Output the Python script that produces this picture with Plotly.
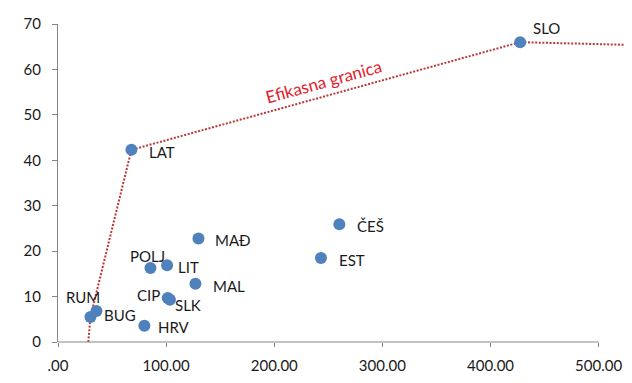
import plotly.graph_objects as go

# ---- data ----
countries = ["SLO", "LAT", "MAĐ", "POLJ", "LIT", "MAL", "CIP", "SLK", "RUM", "BUG", "HRV", "ČEŠ", "EST"]
x_vals = [427.4, 67.9, 129.9, 85.5, 100.9, 127.1, 101.5, 103.5, 30.0, 35.6, 79.9, 260.2, 243.2]
y_vals = [66.0, 42.3, 22.8, 16.3, 16.9, 12.8, 9.7, 9.3, 5.5, 6.8, 3.6, 25.9, 18.5]

frontier_x = [28.0, 30.0, 67.9, 427.4, 529.0]
frontier_y = [0.0, 5.5, 42.3, 66.0, 65.4]

x_tickvals = [0, 100, 200, 300, 400, 500]
x_ticktext = [".00", "100.00", "200.00", "300.00", "400.00", "500.00"]
y_tickvals = [0, 10, 20, 30, 40, 50, 60, 70]

frontier_label = "Efikasna granica"
frontier_label_pos = (245.4, 57.3)

# ---- styling ----
XMAX = 529.0
FONT = "Lato"
label_style = {
    "SLO": dict(xanchor="left", xshift=11, yshift=14),
    "LAT": dict(xanchor="left", xshift=16, yshift=-2),
    "MAĐ": dict(xanchor="left", xshift=15, yshift=-2),
    "POLJ": dict(xanchor="center", xshift=-3, yshift=12),
    "LIT": dict(xanchor="left", xshift=9, yshift=-2),
    "MAL": dict(xanchor="left", xshift=16, yshift=-2),
    "CIP": dict(xanchor="right", xshift=-6, yshift=3),
    "SLK": dict(xanchor="left", xshift=3, yshift=-5),
    "RUM": dict(xanchor="center", xshift=-7, yshift=20),
    "BUG": dict(xanchor="left", xshift=6, yshift=-4),
    "HRV": dict(xanchor="left", xshift=12, yshift=-1),
    "ČEŠ": dict(xanchor="left", xshift=16, yshift=-2),
    "EST": dict(xanchor="left", xshift=16, yshift=-2),
}

fig = go.Figure()
fig.add_trace(go.Scatter(
    x=frontier_x, y=frontier_y, mode="lines",
    line=dict(color="#B8393A", width=2, dash="2px,1.6px"),
    hoverinfo="skip", showlegend=False,
))
fig.add_trace(go.Scatter(
    x=x_vals, y=y_vals, mode="markers",
    marker=dict(color="#4F81BD", size=12, line=dict(width=0)),
    text=countries, showlegend=False, cliponaxis=False,
))

annotations = []
for c, xv, yv in zip(countries, x_vals, y_vals):
    st = label_style[c]
    annotations.append(dict(
        x=xv, y=yv, xref="x", yref="y", text=c, showarrow=False,
        yanchor="middle", font=dict(family=FONT, size=15, color="#1A1A1A"),
        **st,
    ))
annotations.append(dict(
    x=frontier_label_pos[0], y=frontier_label_pos[1], xref="x", yref="y",
    text=frontier_label, showarrow=False, textangle=-15.5,
    font=dict(family=FONT, size=17, color="#E3202B"),
))

# page body has an 8px default margin, so the figure is 624x375
fig.update_layout(
    template="none",
    width=624, height=375,
    margin=dict(l=50, r=2, t=16, b=41, autoexpand=False),
    paper_bgcolor="white", plot_bgcolor="white",
    font=dict(family=FONT, size=15, color="#1A1A1A"),
    annotations=annotations,
    shapes=[dict(
        type="line", xref="x domain", yref="y domain",
        x0=0, x1=500 / XMAX, y0=0, y1=0,
        line=dict(color="#868686", width=1),
    )],
    xaxis=dict(
        range=[0, XMAX], tickvals=x_tickvals, ticktext=x_ticktext,
        showgrid=False, zeroline=False, showline=False, automargin=False,
        ticks="outside", ticklen=4, tickcolor="#868686",
        tickfont=dict(family=FONT, size=15, color="#1A1A1A"),
        ticklabelstandoff=6,
    ),
    yaxis=dict(
        range=[0, 70], tickvals=y_tickvals,
        showgrid=False, zeroline=False, showline=True, linecolor="#868686",
        automargin=False,
        ticks="outside", ticklen=5, tickcolor="#868686",
        tickfont=dict(family=FONT, size=15, color="#1A1A1A"),
        ticklabelstandoff=8,
    ),
)

fig.write_html("out.html")
